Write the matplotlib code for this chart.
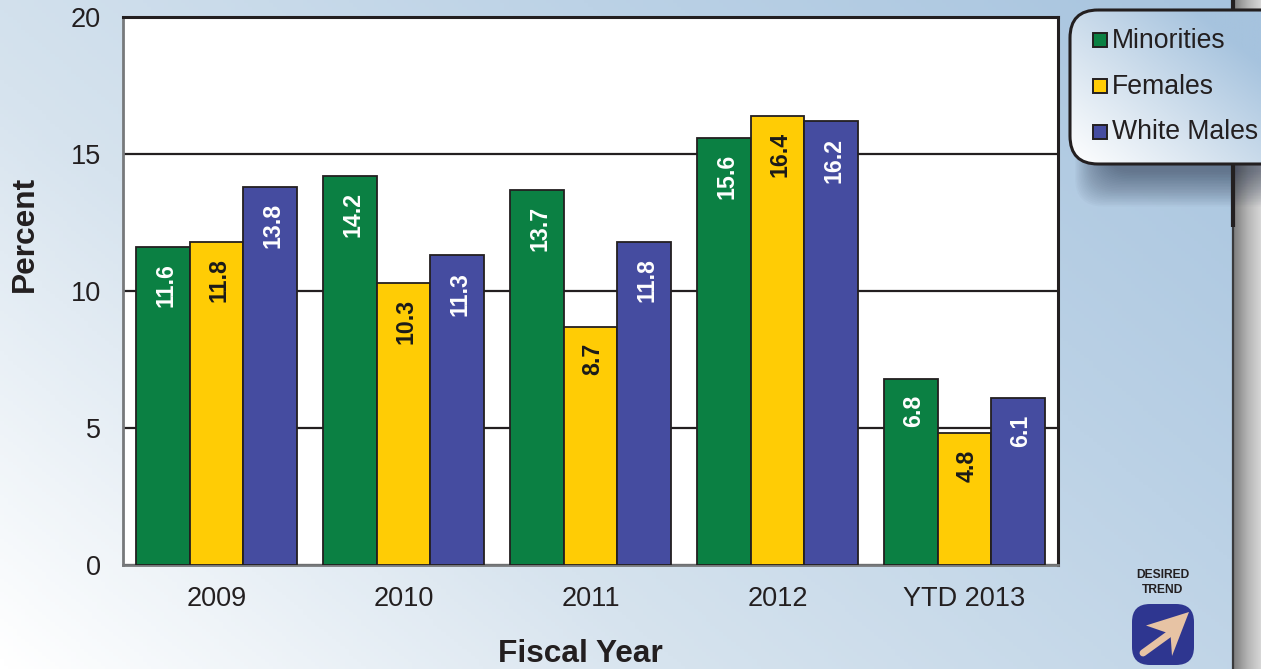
import numpy as np
import matplotlib
matplotlib.use("Agg")
import matplotlib.pyplot as plt
from matplotlib.colors import LinearSegmentedColormap
from matplotlib.patches import FancyBboxPatch, Polygon, Rectangle

plt.rcParams["font.family"] = ["Liberation Sans", "DejaVu Sans"]

W, H = 1261, 669

years = ["2009", "2010", "2011", "2012", "YTD 2013"]
minorities = [11.6, 14.2, 13.7, 15.6, 6.8]
females = [11.8, 10.3, 8.7, 16.4, 4.8]
white_males = [13.8, 11.3, 11.8, 16.2, 6.1]
series_names = ["Minorities", "Females", "White Males"]
series_colors = ["#0b8043", "#ffcc05", "#454ca0"]
label_colors = ["white", "#1a1a1a", "white"]
yticks = [0, 5, 10, 15, 20]

INK = "#231f20"


def px_axes(x0, y0, x1, y1, **kw):
    """Axes placed with pixel coords measured from the top left."""
    return fig.add_axes([x0 / W, 1 - y1 / H, (x1 - x0) / W, (y1 - y0) / H], **kw)


fig = plt.figure(figsize=(W / 100, H / 100), dpi=100)

# page background, white bottom left to blue top right
bg = px_axes(0, 0, W, H, zorder=0)
bg.axis("off")
xx, yy = np.meshgrid(np.linspace(0, 1, 300), np.linspace(0, 1, 200))
blue = LinearSegmentedColormap.from_list("bg", ["#ffffff", "#d6e3ee", "#bcd2e6", "#a6c3de"])
bg.imshow(np.clip(xx * 0.62 + yy * 0.38, 0, 1), cmap=blue, origin="lower", aspect="auto",
          extent=[0, W, H, 0], vmin=0, vmax=1)

# grey strip down the right edge
strip = np.linspace(0, 1, 64).reshape(1, -1)
grey = LinearSegmentedColormap.from_list("strip", ["#7f7f7f", "#b4b4b4", "#d6d6d6"])
bg.imshow(strip, cmap=grey, aspect="auto", extent=[1234, W, H, 0], vmin=0, vmax=1)
bg.plot([1233, 1233], [0, 227], color=INK, lw=3, solid_capstyle="butt")
bg.plot([1233, 1233], [227, H], color="#3a3a3c", lw=1.6, solid_capstyle="butt")

# soft shadow under the legend box, outer layers wider and taller
for i in range(24):
    bg.add_patch(FancyBboxPatch((1105 - 1.3 * i, 60), 220, 112 + 1.5 * i,
                                boxstyle="round,pad=0,rounding_size=28", fc="#26324a",
                                ec="none", alpha=0.028))

# desired trend badge
bg.text(1163, 575, "DESIRED", ha="center", va="center", fontsize=8.7, fontweight="bold", color=INK)
bg.text(1163, 590, "TREND", ha="center", va="center", fontsize=8.7, fontweight="bold", color=INK)
bg.add_patch(FancyBboxPatch((1132, 604), 62, 61, boxstyle="round,pad=0,rounding_size=18",
                            fc="#2e3690", ec="none"))
bg.plot([1143, 1172], [653, 632], color="#e7c3a4", lw=5, solid_capstyle="round")
bg.add_patch(Polygon([(1189, 612), (1172, 656), (1170.5, 634), (1146, 625.5)], fc="#e7c3a4", ec="none"))
bg.set_xlim(0, W)
bg.set_ylim(H, 0)

# main chart
ax = px_axes(123, 17, 1058, 565, zorder=2)
ax.set_facecolor("white")
x = np.arange(len(years))
width = 0.286
for i, vals in enumerate([minorities, females, white_males]):
    pos = x + (i - 1) * width
    ax.bar(pos, vals, width, color=series_colors[i], edgecolor=INK, linewidth=1.3, zorder=3)
    for p, v in zip(pos, vals):
        ax.text(p + 0.014, v - 0.6, f"{v:.1f}", rotation=90, ha="center", va="top", fontsize=16.7,
                fontweight="bold", color=label_colors[i], zorder=4)

ax.set_xlim(-0.5, 4.5)
ax.set_ylim(0, 20)
ax.set_yticks(yticks)
ax.set_xticks(x, years)
ax.tick_params(axis="both", length=0, labelsize=19.5, labelcolor=INK)
ax.tick_params(axis="x", pad=15)
ax.tick_params(axis="y", pad=16)
ax.grid(axis="y", color=INK, lw=1.6, zorder=1)
ax.set_axisbelow(True)
for side in ["top", "right"]:
    ax.spines[side].set_color(INK)
    ax.spines[side].set_linewidth(2.2)
for side in ["left", "bottom"]:
    ax.spines[side].set_color("#77797b")
    ax.spines[side].set_linewidth(2)
fig.text(580 / W, 1 - 654 / H, "Fiscal Year", ha="center", va="center",
         fontsize=22.8, fontweight="bold", color=INK)
fig.text(25 / W, 1 - 234 / H, "Percent", rotation=90, ha="center", va="center",
         fontsize=22.8, fontweight="bold", color=INK)

# legend panel drawn on top of everything
top = px_axes(0, 0, W, H, zorder=5)
top.axis("off")
top.patch.set_alpha(0)
box = FancyBboxPatch((1070, 10), 230, 154, boxstyle="round,pad=0,rounding_size=28",
                     fc="none", ec=INK, lw=2.2, zorder=3)
top.add_patch(box)
lx, ly = np.meshgrid(np.linspace(0, 1, 200), np.linspace(0, 1, 100))
panel = LinearSegmentedColormap.from_list("panel", ["#ffffff", "#d3e1ee", "#a6c3de"])
im = top.imshow(lx * 0.6 + ly * 0.6, cmap=panel, origin="lower", aspect="auto",
                extent=[1070, 1261, 164, 10], vmin=0, vmax=1, zorder=1)
im.set_clip_path(box)
for name, color, yp in zip(series_names, series_colors, [39.5, 85.5, 131]):
    top.add_patch(Rectangle((1092.5, yp - 6.5), 14, 14, fc=color, ec=INK, lw=1.4, zorder=4))
    top.text(1112, yp + 1, name, ha="left", va="center", fontsize=19.2, color=INK, zorder=4)
top.set_xlim(0, W)
top.set_ylim(H, 0)

fig.savefig("out.png", dpi=100)
